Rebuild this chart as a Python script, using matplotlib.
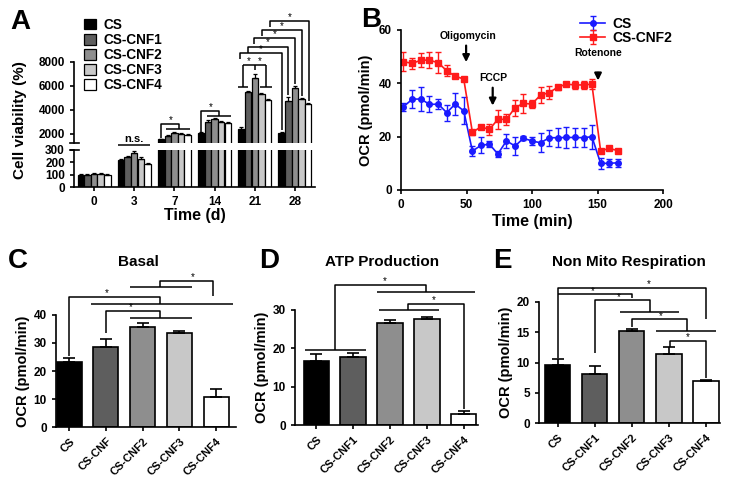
import matplotlib.pyplot as plt
import numpy as np
from matplotlib.patches import Patch

plt.rcParams['font.family'] = ['Liberation Sans', 'DejaVu Sans']
plt.rcParams['font.weight'] = 'bold'
plt.rcParams['axes.labelweight'] = 'bold'
plt.rcParams['axes.linewidth'] = 1.2
plt.rcParams['xtick.major.width'] = 1.2
plt.rcParams['ytick.major.width'] = 1.2
plt.rcParams['xtick.major.size'] = 3
plt.rcParams['ytick.major.size'] = 3
plt.rcParams['xtick.labelsize'] = 8.5
plt.rcParams['ytick.labelsize'] = 8.5

# ---------------- data ----------------
groups = ['CS', 'CS-CNF1', 'CS-CNF2', 'CS-CNF3', 'CS-CNF4']
bar_colors = ['#000000', '#5e5e5e', '#8e8e8e', '#c8c8c8', '#ffffff']

# panel A: cell viability (%)
days = ['0', '3', '7', '14', '21', '28']
viab_cs = [100, 216, 1550, 2050, 2450, 2100]
viab_cnf1 = [100, 242, 1850, 3030, 5470, 4780]
viab_cnf2 = [105, 276, 2100, 3250, 6640, 5860]
viab_cnf3 = [105, 229, 2000, 3000, 5300, 4890]
viab_cnf4 = [100, 184, 1920, 2900, 4830, 4500]
viab_err_cs = [6, 10, 60, 120, 120, 80]
viab_err_cnf1 = [6, 10, 80, 100, 150, 300]
viab_err_cnf2 = [8, 12, 80, 100, 350, 150]
viab_err_cnf3 = [8, 12, 60, 80, 150, 100]
viab_err_cnf4 = [6, 8, 60, 80, 120, 120]

# panel B: OCR time course
ocr_time = [1.8, 8.7, 15.3, 21.7, 28.5, 34.9, 41.3, 47.9, 54.5, 60.9, 67.5, 73.9, 80.5,
            87.1, 93.5, 99.9, 106.5, 113.1, 119.5, 126.1, 132.7, 139.4, 145.7, 152.4, 158.7, 165.4]
ocr_cs = [31.2, 34.1, 34.1, 32.1, 32.2, 29.0, 32.2, 29.7, 14.6, 16.7, 17.2, 13.5, 18.4,
          16.5, 19.4, 18.4, 17.7, 19.6, 19.6, 19.7, 19.7, 19.6, 20.0, 10.0, 10.0, 10.2]
ocr_cs_err = [1.5, 3.5, 4.5, 3.0, 2.0, 3.0, 4.0, 5.0, 2.0, 3.0, 1.0, 1.0, 2.5,
              3.5, 0.8, 1.5, 3.5, 3.0, 3.5, 4.0, 3.5, 3.5, 4.5, 2.0, 1.5, 1.5]
ocr_cnf2 = [48.1, 47.5, 48.7, 48.7, 47.7, 44.7, 42.7, 41.6, 21.6, 23.7, 22.7, 26.5, 26.5,
            30.9, 32.5, 32.2, 35.6, 36.5, 38.5, 39.7, 39.4, 39.4, 39.7, 14.6, 15.6, 14.8]
ocr_cnf2_err = [3.5, 2.0, 2.5, 3.0, 4.0, 2.0, 0.6, 0.6, 1.0, 0.6, 2.0, 3.5, 2.0,
                3.0, 3.5, 1.5, 3.0, 2.5, 1.0, 0.6, 1.5, 1.5, 2.0, 0.6, 0.6, 0.6]

# panels C-E
basal_labels = ['CS', 'CS-CNF', 'CS-CNF2', 'CS-CNF3', 'CS-CNF4']
basal = [23.1, 28.6, 35.7, 33.6, 10.6]
basal_err = [1.5, 2.8, 1.4, 0.6, 3.0]
atp = [16.8, 17.7, 26.6, 27.6, 2.8]
atp_err = [1.7, 1.0, 0.7, 0.5, 0.9]
nonmito = [9.6, 8.05, 15.1, 11.4, 6.95]
nonmito_err = [0.9, 1.4, 0.45, 1.1, 0.2]

W, H = 734, 480
fig = plt.figure(figsize=(W / 100, H / 100), dpi=100)


def box(left, top, right, bottom):
    return [left / W, 1 - bottom / H, (right - left) / W, (bottom - top) / H]


def line(ax, xs, ys, lw=1.1):
    ax.plot(xs, ys, color='k', lw=lw, clip_on=False, solid_capstyle='butt', zorder=5)


def star(ax, x, y, size=7):
    ax.text(x, y, '*', ha='center', va='bottom', fontsize=size, fontweight='normal',
            clip_on=False, zorder=5)


def clean(ax):
    ax.spines['top'].set_visible(False)
    ax.spines['right'].set_visible(False)


# ---------------- panel A ----------------
ax_lo = fig.add_axes(box(74, 150, 315, 187))
ax_hi = fig.add_axes(box(74, 62, 315, 143))
ax_hi.patch.set_visible(False)
viab = [viab_cs, viab_cnf1, viab_cnf2, viab_cnf3, viab_cnf4]
viab_err = [viab_err_cs, viab_err_cnf1, viab_err_cnf2, viab_err_cnf3, viab_err_cnf4]
xg = np.arange(len(days))
bw = 0.16
step = 0.165
for ax in (ax_lo, ax_hi):
    for i in range(5):
        ax.bar(xg + (i - 2) * step, viab[i], bw, color=bar_colors[i],
               edgecolor='k', lw=0.9,
               yerr=[np.zeros(len(days)), viab_err[i]], capsize=1.5,
               error_kw=dict(elinewidth=0.9, capthick=0.9))
    ax.set_xlim(-0.5, 5.5)
    clean(ax)
ax_lo.set_ylim(0, 300)
ax_lo.set_yticks([0, 100, 200, 300])
ax_lo.set_xticks(xg)
ax_lo.set_xticklabels(days)
ax_hi.set_ylim(1250, 8000)
ax_hi.set_yticks([2000, 4000, 6000, 8000])
ax_hi.spines['bottom'].set_visible(False)
ax_hi.set_xticks([])
ax_hi.plot([-0.015, 0.02], [0, 0], transform=ax_hi.transAxes, color='k', lw=1.2, clip_on=False)
ax_lo.plot([-0.015, 0.02], [1, 1], transform=ax_lo.transAxes, color='k', lw=1.2, clip_on=False)
fig.text(20 / W, 1 - 120 / H, 'Cell viability (%)', rotation=90, ha='center', va='center',
         fontsize=11, fontweight='bold')
fig.text(195 / W, 1 - 215 / H, 'Time (d)', ha='center', va='center', fontsize=11.5,
         fontweight='bold')

# n.s. over day 3
line(ax_lo, [0.6, 1.4], [340, 340])
ax_lo.text(1.0, 350, 'n.s.', ha='center', va='bottom', fontsize=8, clip_on=False)


def px2x(px):
    return (px - 94) / 40.2


def px2v(py):
    return 2000 + (134 - py) / 12 * 1000


# day 7 and day 14 brackets: CS vs rest
for d, top, low in [(2, 2800, 2450), (3, 3900, 3500)]:
    xc = d - 2 * step
    line(ax_hi, [xc, xc, d + 0.12, d + 0.12], [viab_cs[d] + 150, top, top, low])
    line(ax_hi, [d - 0.2, d + 0.4], [low, low])
    star(ax_hi, d - 0.1, top - 60)

# day 21 CNF2 vs others
d = 4
line(ax_hi, [px2x(243), px2x(266)], [7750, 7750])
line(ax_hi, [d, d], [7750, 7350])
line(ax_hi, [px2x(243), px2x(243)], [7750, 5890])
line(ax_hi, [px2x(266), px2x(266)], [7750, 5890])
line(ax_hi, [px2x(238), px2x(248.5)], [5890, 5890])
line(ax_hi, [px2x(260), px2x(272)], [5890, 5890])
star(ax_hi, px2x(249), 7700)
star(ax_hi, px2x(260), 7700)

# day 21 vs day 28 nested brackets
left_px = [240, 247.7, 254.3, 261.7, 270]
right_px = [281.7, 288, 295, 301.7, 309.3]
top_py = [53.3, 46.7, 38.3, 30, 21]
for i in range(5):
    yt = px2v(top_py[i])
    yl = px2v(top_py[i] + 6)
    yb = viab[i][5] + viab_err[i][5] + 150
    line(ax_hi, [px2x(left_px[i]), px2x(left_px[i]), px2x(right_px[i]), px2x(right_px[i])],
         [yl, yt, yt, yb])
    star(ax_hi, px2x((left_px[i] + right_px[i]) / 2), yt - 60)

handles = [Patch(facecolor=c, edgecolor='k', lw=0.9) for c in bar_colors]
fig.legend(handles, groups, loc='upper left', bbox_to_anchor=(84 / W, 1 - 18 / H),
           frameon=False, fontsize=9.8, handlelength=0.9, handleheight=0.8,
           labelspacing=0.08, handletextpad=0.55, borderaxespad=0, borderpad=0)
fig.text(10 / W, 1 - 29 / H, 'A', fontsize=20, fontweight='bold')

# ---------------- panel B ----------------
axb = fig.add_axes(box(401, 30, 663, 190))
axb.errorbar(ocr_time, ocr_cs, yerr=ocr_cs_err, color='#1a1aff', marker='o', ms=4,
             lw=1.2, capsize=2.5, elinewidth=1.0, capthick=1.0, label='CS')
axb.errorbar(ocr_time, ocr_cnf2, yerr=ocr_cnf2_err, color='#ff1a1a', marker='s', ms=4,
             lw=1.2, capsize=2.5, elinewidth=1.0, capthick=1.0, label='CS-CNF2')
axb.set_xlim(0, 200)
axb.set_ylim(0, 60)
axb.set_xticks([0, 50, 100, 150, 200])
axb.set_yticks([0, 20, 40, 60])
clean(axb)
axb.set_xlabel('Time (min)', fontsize=11.5, labelpad=2)
axb.set_ylabel('OCR (pmol/min)', fontsize=10.5, labelpad=4)
arrow_kw = dict(arrowstyle='-|>', color='k', lw=1.6, mutation_scale=10)
axb.annotate('', xy=(49.7, 46.9), xytext=(49.7, 55.2), arrowprops=arrow_kw)
axb.annotate('', xy=(70, 30.6), xytext=(70, 39.4), arrowprops=arrow_kw)
axb.annotate('', xy=(150.4, 40.0), xytext=(150.4, 45.0), arrowprops=arrow_kw)
axb.text(51.1, 56.0, 'Oligomycin', ha='center', va='bottom', fontsize=7.5)
axb.text(70.2, 40.3, 'FCCP', ha='center', va='bottom', fontsize=7.5)
axb.text(150.6, 49.5, 'Rotenone', ha='center', va='bottom', fontsize=7.5)
axb.legend(loc='upper left', bbox_to_anchor=(580 / W, 1 - 17 / H), bbox_transform=fig.transFigure,
           frameon=False, fontsize=10, handlelength=1.8, labelspacing=0.0,
           handletextpad=0.5, borderaxespad=0, borderpad=0)
fig.text(361 / W, 1 - 27 / H, 'B', fontsize=20, fontweight='bold')


# ---------------- panels C-E ----------------
def bars(ax, vals, errs, labels, width):
    x = np.arange(len(vals))
    ax.bar(x, vals, width, color=bar_colors, edgecolor='k', lw=1.2,
           yerr=[np.zeros(len(vals)), errs], capsize=4,
           error_kw=dict(elinewidth=1.2, capthick=1.2))
    ax.set_xticks(x)
    ax.set_xticklabels(labels, rotation=45, ha='right', rotation_mode='anchor', fontsize=8)
    clean(ax)
    ax.set_ylabel('OCR (pmol/min)', fontsize=10.5, labelpad=3)


axc = fig.add_axes(box(56, 315, 236, 427))
bars(axc, basal, basal_err, basal_labels, 0.68)
axc.set_xlim(-0.36, 4.54)
axc.set_ylim(0, 40)
axc.set_yticks([0, 10, 20, 30, 40])
fig.text(138 / W, 1 - 262 / H, 'Basal', ha='center', va='center', fontsize=11)
line(axc, [0, 0, 2.47, 2.47], [25.2, 46.4, 46.4, 43.9])
line(axc, [0.6, 4.45], [43.9, 43.9])
star(axc, 1.02, 46.0)
line(axc, [1.0, 1.0, 2.47, 2.47], [33.4, 41.3, 41.3, 38.9])
line(axc, [1.65, 3.33], [38.9, 38.9])
star(axc, 1.68, 40.9)
line(axc, [1.65, 3.33], [50.1, 50.1])
line(axc, [2.47, 2.47, 3.92, 3.92], [50.1, 52.3, 52.3, 46.7])
star(axc, 3.35, 51.9)
fig.text(8 / W, 1 - 268 / H, 'C', fontsize=20, fontweight='bold')

axd = fig.add_axes(box(295, 310, 478, 425))
bars(axd, atp, atp_err, groups, 0.69)
axd.set_xlim(-0.58, 4.39)
axd.set_ylim(0, 30)
axd.set_yticks([0, 10, 20, 30])
fig.text(381.7 / W, 1 - 262 / H, 'ATP Production', ha='center', va='center', fontsize=11)
line(axd, [-0.31, 1.35], [19.6, 19.6])
line(axd, [0.5, 0.5, 2.97, 2.97], [19.6, 36.6, 36.6, 34.6])
line(axd, [1.64, 4.31], [34.6, 34.6])
star(axd, 1.85, 36.2)
line(axd, [1.69, 3.34], [30.0, 30.0])
line(axd, [2.5, 2.5, 4.0, 4.0], [30.0, 31.6, 31.6, 4.2])
star(axd, 3.2, 31.2)
fig.text(259 / W, 1 - 268 / H, 'D', fontsize=20, fontweight='bold')

axe = fig.add_axes(box(539, 301.7, 720, 423.3))
bars(axe, nonmito, nonmito_err, groups, 0.68)
axe.set_xlim(-0.51, 4.38)
axe.set_ylim(0, 20)
axe.set_yticks([0, 5, 10, 15, 20])
fig.text(629 / W, 1 - 262 / H, 'Non Mito Respiration', ha='center', va='center', fontsize=11)
line(axe, [0, 0, 4.0, 4.0], [10.7, 22.3, 22.3, 17.1])
star(axe, 2.45, 22.0)
line(axe, [0, 1.99, 1.99], [21.3, 21.3, 20.6])
star(axe, 0.95, 21.0)
line(axe, [1.0, 1.0, 2.48, 2.48], [11.5, 20.3, 20.3, 18.35])
line(axe, [1.69, 3.27], [18.35, 18.35])
star(axe, 1.65, 20.0)
line(axe, [2.0, 2.0, 3.49, 3.49], [15.9, 17.1, 17.1, 15.1])
line(axe, [2.66, 4.28], [15.1, 15.1])
star(axe, 2.77, 16.8)
line(axe, [3.03, 3.03, 4.0, 4.0], [12.6, 13.6, 13.6, 7.4])
star(axe, 3.5, 13.3)
fig.text(493 / W, 1 - 268 / H, 'E', fontsize=20, fontweight='bold')

fig.savefig('out.png', dpi=100)
